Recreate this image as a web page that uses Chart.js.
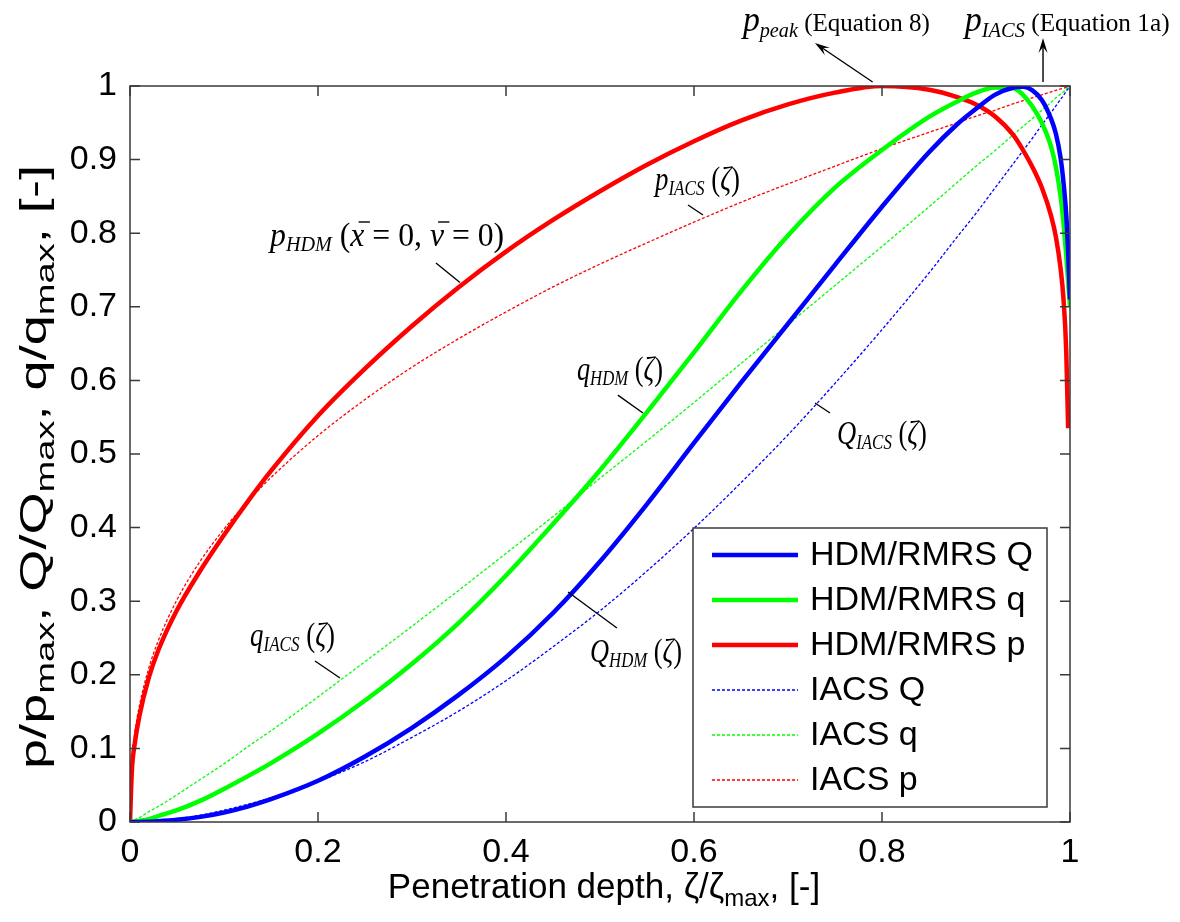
<!DOCTYPE html>
<html>
<head>
<meta charset="utf-8">
<script src="https://cdn.jsdelivr.net/npm/chart.js@4.4.1/dist/chart.umd.min.js"></script>
<style>
  html, body { margin: 0; padding: 0; background: #fff; }
  canvas { display: block; }
</style>
</head>
<body>
<canvas id="c" width="1180" height="922"></canvas>
<script>
// Normalised penetration depth zeta/zeta_max
const zeta = [0, 0.002, 0.005, 0.01, 0.02, 0.03, 0.05, 0.075, 0.1, 0.125, 0.15, 0.2, 0.25, 0.3, 0.35, 0.4, 0.45, 0.5, 0.55, 0.6, 0.65, 0.7, 0.75, 0.8, 0.85, 0.88, 0.9, 0.92, 0.94, 0.95, 0.96, 0.97, 0.98, 0.985, 0.99, 0.993, 0.996, 0.998, 1];

// HDM/RMRS model: normalised force Q, line load q and pressure p
const hdmQ = [0, 0, 0.00002, 0.0001, 0.0004, 0.001, 0.003, 0.007, 0.013, 0.021, 0.031, 0.056, 0.089, 0.128, 0.173, 0.224, 0.284, 0.354, 0.432, 0.515, 0.597, 0.677, 0.757, 0.836, 0.910, 0.948, 0.969, 0.988, 0.998, 0.999, 0.994, 0.981, 0.955, 0.935, 0.902, 0.870, 0.825, 0.775, 0.71];
const hdmq = [0, 0.0002, 0.0006, 0.0015, 0.004, 0.008, 0.016, 0.029, 0.045, 0.062, 0.080, 0.120, 0.165, 0.215, 0.271, 0.335, 0.405, 0.478, 0.557, 0.638, 0.721, 0.797, 0.862, 0.913, 0.958, 0.979, 0.991, 0.998, 0.997, 0.988, 0.972, 0.950, 0.917, 0.890, 0.850, 0.815, 0.770, 0.735, 0.70];
const hdmp = [0, 0.07, 0.106, 0.144, 0.196, 0.233, 0.288, 0.342, 0.390, 0.435, 0.477, 0.552, 0.616, 0.674, 0.727, 0.775, 0.818, 0.857, 0.893, 0.925, 0.953, 0.975, 0.991, 1.0, 0.995, 0.985, 0.975, 0.959, 0.933, 0.913, 0.890, 0.862, 0.823, 0.795, 0.752, 0.712, 0.64, 0.535, null];

// IACS design curves
const iacsQ = [0, 0.00001, 0.00007, 0.0003, 0.0009, 0.0018, 0.0046, 0.0094, 0.016, 0.024, 0.033, 0.055, 0.082, 0.115, 0.151, 0.192, 0.238, 0.287, 0.341, 0.399, 0.461, 0.526, 0.596, 0.669, 0.746, 0.795, 0.827, 0.861, 0.895, 0.912, 0.929, 0.947, 0.964, 0.973, 0.982, 0.987, 0.993, 0.996, 1];
const iacsq = [0, 0.001, 0.003, 0.006, 0.014, 0.021, 0.037, 0.058, 0.079, 0.102, 0.124, 0.170, 0.218, 0.266, 0.315, 0.365, 0.415, 0.467, 0.518, 0.570, 0.623, 0.676, 0.729, 0.782, 0.836, 0.869, 0.891, 0.912, 0.934, 0.945, 0.956, 0.967, 0.978, 0.984, 0.989, 0.992, 0.996, 0.998, 1];
const iacsp = [0, 0.083, 0.120, 0.158, 0.209, 0.246, 0.302, 0.355, 0.398, 0.435, 0.468, 0.525, 0.574, 0.618, 0.657, 0.693, 0.727, 0.758, 0.787, 0.815, 0.842, 0.867, 0.891, 0.915, 0.937, 0.950, 0.959, 0.967, 0.976, 0.980, 0.984, 0.988, 0.992, 0.994, 0.996, 0.997, 0.998, 0.999, 1];

const seriesLabels = ['HDM/RMRS Q', 'HDM/RMRS q', 'HDM/RMRS p', 'IACS Q', 'IACS q', 'IACS p'];
const xTicks = [0, 0.2, 0.4, 0.6, 0.8, 1];
const yTicks = [0, 0.1, 0.2, 0.3, 0.4, 0.5, 0.6, 0.7, 0.8, 0.9, 1];

const SANS = '"Liberation Sans", Arial, Helvetica, sans-serif';
const SERIF = '"Liberation Serif", "Times New Roman", serif';
const it = s => `italic ${s}px ${SERIF}`;
const rm = s => `${s}px ${SERIF}`;
const sans = s => `${s}px ${SANS}`;

const toPoints = arr => zeta.map((z, i) => ({ x: z, y: arr[i] })).filter(p => p.y !== null);

function solid(label, color, arr) {
  return { label, data: toPoints(arr), borderColor: color, backgroundColor: color,
    borderWidth: 4.5, pointRadius: 0, cubicInterpolationMode: 'monotone', fill: false };
}
function dotted(label, color, arr) {
  return { label, data: toPoints(arr), borderColor: color, backgroundColor: color,
    borderWidth: 1.3, borderDash: [3, 2], pointRadius: 0, cubicInterpolationMode: 'monotone', fill: false };
}

// ---------- rich text helpers (italic symbols with subscripts) ----------
function segWidth(ctx, segs) {
  let w = 0;
  segs.forEach(s => { ctx.font = s.f; w += ctx.measureText(s.t).width + (s.gap || 0); });
  return w;
}
function drawRich(ctx, segs, x, y, target) {
  const w = segWidth(ctx, segs);
  const sx = target ? target / w : 1;
  ctx.save();
  ctx.translate(x, y);
  ctx.scale(sx, 1);
  ctx.fillStyle = '#000';
  ctx.textBaseline = 'alphabetic';
  ctx.textAlign = 'left';
  let cx = 0;
  segs.forEach(s => {
    ctx.font = s.f;
    ctx.fillText(s.t, cx, s.dy || 0);
    const sw = ctx.measureText(s.t).width;
    if (s.bar) {
      const fs = parseFloat(s.f.match(/([\d.]+)px/)[1]);
      ctx.fillRect(cx + 0.26 * fs, -0.74 * fs, sw * 0.8, 1.4);
    }
    cx += sw + (s.gap || 0);
  });
  ctx.restore();
  return w * sx;
}

// ---------- annotations, placed in data units ----------
const M = 33, S = 21;
const curveNotes = [
  { at: [0.149, 0.783], w: 0.249, segs: [
      { t: 'p', f: it(M) }, { t: 'HDM', f: it(S), dy: 5 }, { t: ' (', f: rm(M) },
      { t: 'x', f: it(M), bar: true }, { t: ' = 0, ', f: rm(M) },
      { t: 'v', f: it(M), bar: true }, { t: ' = 0)', f: rm(M) }],
    lead: [[0.3255, 0.7595], [0.351, 0.733]] },
  { at: [0.5585, 0.8587], w: 0.0904, segs: [
      { t: 'p', f: it(M) }, { t: 'IACS', f: it(S), dy: 5 }, { t: ' (', f: rm(M) }, { t: 'ζ', f: it(M) }, { t: ')', f: rm(M) }],
    lead: [[0.5936, 0.8383], [0.6096, 0.8247]] },
  { at: [0.4755, 0.6005], w: 0.0915, segs: [
      { t: 'q', f: it(M) }, { t: 'HDM', f: it(S), dy: 5 }, { t: ' (', f: rm(M) }, { t: 'ζ', f: it(M) }, { t: ')', f: rm(M) }],
    lead: [[0.519, 0.580], [0.5457, 0.5557]] },
  { at: [0.7521, 0.5136], w: 0.0957, segs: [
      { t: 'Q', f: it(M) }, { t: 'IACS', f: it(S), dy: 5 }, { t: ' (', f: rm(M) }, { t: 'ζ', f: it(M) }, { t: ')', f: rm(M) }],
    lead: [[0.7287, 0.5693], [0.7447, 0.5557]] },
  { at: [0.4894, 0.2174], w: 0.0979, segs: [
      { t: 'Q', f: it(M) }, { t: 'HDM', f: it(S), dy: 5 }, { t: ' (', f: rm(M) }, { t: 'ζ', f: it(M) }, { t: ')', f: rm(M) }],
    lead: [[0.466, 0.3125], [0.518, 0.2636]] },
  { at: [0.1277, 0.2391], w: 0.0904, segs: [
      { t: 'q', f: it(M) }, { t: 'IACS', f: it(S), dy: 5 }, { t: ' (', f: rm(M) }, { t: 'ζ', f: it(M) }, { t: ')', f: rm(M) }],
    lead: [[0.1968, 0.2188], [0.2234, 0.1957]] }
];
const topNotes = [
  { at: [0.652, 1.0747], w: 0.199, segs: [
      { t: 'p', f: it(35) }, { t: 'peak', f: it(21), dy: 6 }, { t: ' (Equation 8)', f: rm(26) }],
    arrow: [[0.790, 1.0054], [0.7287, 1.0584]] },
  { at: [0.888, 1.0747], w: 0.218, segs: [
      { t: 'p', f: it(35) }, { t: 'IACS', f: it(21), dy: 6 }, { t: ' (Equation 1a)', f: rm(26) }],
    arrow: [[0.9713, 1.0054], [0.9713, 1.0652]] }
];

function drawArrow(ctx, x1, y1, x2, y2) {
  const ang = Math.atan2(y2 - y1, x2 - x1);
  const L = 15, H = 4.5;
  ctx.beginPath();
  ctx.moveTo(x1, y1);
  ctx.lineTo(x2 - Math.cos(ang) * 8, y2 - Math.sin(ang) * 8);
  ctx.stroke();
  ctx.beginPath();
  ctx.moveTo(x2, y2);
  ctx.lineTo(x2 - L * Math.cos(ang) + H * Math.sin(ang), y2 - L * Math.sin(ang) - H * Math.cos(ang));
  ctx.lineTo(x2 - 0.6 * L * Math.cos(ang), y2 - 0.6 * L * Math.sin(ang));
  ctx.lineTo(x2 - L * Math.cos(ang) - H * Math.sin(ang), y2 - L * Math.sin(ang) + H * Math.cos(ang));
  ctx.closePath();
  ctx.fill();
}

// ---------- axes box with inward tick marks ----------
const framePlugin = {
  id: 'frame',
  afterDatasetsDraw(chart) {
    const { ctx, chartArea: a, scales: { x, y } } = chart;
    const L = 10;
    ctx.save();
    ctx.strokeStyle = '#3a3a3a';
    ctx.lineWidth = 1.5;
    ctx.beginPath();
    x.ticks.forEach(t => {
      const px = x.getPixelForValue(t.value);
      ctx.moveTo(px, a.bottom); ctx.lineTo(px, a.bottom - L);
      ctx.moveTo(px, a.top); ctx.lineTo(px, a.top + L);
    });
    y.ticks.forEach(t => {
      const py = y.getPixelForValue(t.value);
      ctx.moveTo(a.left, py); ctx.lineTo(a.left + L, py);
      ctx.moveTo(a.right, py); ctx.lineTo(a.right - L, py);
    });
    ctx.stroke();
    ctx.strokeRect(a.left, a.top, a.right - a.left, a.bottom - a.top);
    ctx.restore();
  }
};

// ---------- legend box inside the lower right corner ----------
const legendBox = { right: 23, bottom: 15, width: 354, rowH: 45, pad: 27, sampleX: 19, sampleLen: 86, textX: 117, font: 34 };
const boxLegendPlugin = {
  id: 'boxLegend',
  afterDraw(chart) {
    const { ctx, chartArea: a } = chart;
    const ds = chart.data.datasets;
    const h = legendBox.pad * 2 + legendBox.rowH * (ds.length - 1);
    const x0 = a.right - legendBox.right - legendBox.width;
    const y0 = a.bottom - legendBox.bottom - h;
    ctx.save();
    ctx.fillStyle = '#fff';
    ctx.fillRect(x0, y0, legendBox.width, h);
    ctx.strokeStyle = '#3a3a3a';
    ctx.lineWidth = 1.5;
    ctx.strokeRect(x0, y0, legendBox.width, h);
    ds.forEach((d, i) => {
      const cy = y0 + legendBox.pad + i * legendBox.rowH;
      ctx.save();
      ctx.strokeStyle = d.borderColor;
      ctx.lineWidth = d.borderWidth;
      ctx.setLineDash(d.borderDash || []);
      ctx.beginPath();
      ctx.moveTo(x0 + legendBox.sampleX, cy);
      ctx.lineTo(x0 + legendBox.sampleX + legendBox.sampleLen, cy);
      ctx.stroke();
      ctx.restore();
      ctx.fillStyle = '#000';
      ctx.font = sans(legendBox.font);
      ctx.textBaseline = 'middle';
      ctx.textAlign = 'left';
      ctx.fillText(d.label, x0 + legendBox.textX, cy + 1);
    });
    ctx.restore();
  }
};

// ---------- curve labels, leaders, arrows and axis titles ----------
const notesPlugin = {
  id: 'notes',
  afterDraw(chart) {
    const { ctx, scales: { x, y } } = chart;
    const px = v => x.getPixelForValue(v), py = v => y.getPixelForValue(v);
    ctx.save();
    ctx.strokeStyle = '#000';
    ctx.fillStyle = '#000';
    ctx.lineWidth = 1.4;
    curveNotes.forEach(n => {
      const [a, b] = n.lead;
      ctx.beginPath();
      ctx.moveTo(px(a[0]), py(a[1]));
      ctx.lineTo(px(b[0]), py(b[1]));
      ctx.stroke();
      drawRich(ctx, n.segs, px(n.at[0]), py(n.at[1]), px(n.at[0] + n.w) - px(n.at[0]));
    });
    topNotes.forEach(n => {
      const [a, b] = n.arrow;
      drawArrow(ctx, px(a[0]), py(a[1]), px(b[0]), py(b[1]));
      drawRich(ctx, n.segs, px(n.at[0]), py(n.at[1]), px(n.at[0] + n.w) - px(n.at[0]));
    });

    // x axis title
    const xs = [
      { t: 'Penetration depth, ζ/ζ', f: sans(35) },
      { t: 'max', f: sans(24), dy: 8 },
      { t: ', [-]', f: sans(35) }
    ];
    const xw = segWidth(ctx, xs);
    drawRich(ctx, xs, 604 - xw / 2, 898);

    // y axis title (rotated)
    const ys = [
      { t: 'p/p', f: sans(37) }, { t: 'max', f: sans(26), dy: 8 },
      { t: ', Q/Q', f: sans(37) }, { t: 'max', f: sans(26), dy: 8 },
      { t: ', q/q', f: sans(37) }, { t: 'max', f: sans(26), dy: 8 },
      { t: ', [-]', f: sans(37) }
    ];
    ctx.save();
    ctx.translate(46, 467);
    ctx.rotate(-Math.PI / 2);
    drawRich(ctx, ys, -302, 0, 604);
    ctx.restore();
    ctx.restore();
  }
};

Chart.defaults.font.family = SANS;
Chart.defaults.color = '#000';

new Chart(document.getElementById('c'), {
  type: 'line',
  data: {
    datasets: [
      solid(seriesLabels[0], '#0000ff', hdmQ),
      solid(seriesLabels[1], '#00ff00', hdmq),
      solid(seriesLabels[2], '#ff0000', hdmp),
      dotted(seriesLabels[3], '#0000ff', iacsQ),
      dotted(seriesLabels[4], '#00ff00', iacsq),
      dotted(seriesLabels[5], '#ff0000', iacsp)
    ]
  },
  options: {
    responsive: false,
    devicePixelRatio: 1,
    animation: false,
    layout: { padding: { left: 0, right: 110, top: 86, bottom: 0 } },
    plugins: { legend: { display: false }, tooltip: { enabled: false } },
    scales: {
      x: {
        type: 'linear', min: 0, max: 1,
        afterBuildTicks: s => { s.ticks = xTicks.map(v => ({ value: v })); },
        afterFit: s => { s.height = 100; },
        grid: { display: false, drawTicks: false },
        border: { display: false },
        ticks: { font: { size: 34 }, padding: 10, maxRotation: 0, autoSkip: false, callback: v => String(v) }
      },
      y: {
        type: 'linear', min: 0, max: 1,
        afterBuildTicks: s => { s.ticks = yTicks.map(v => ({ value: v })); },
        afterFit: s => { s.width = 130; },
        grid: { display: false, drawTicks: false },
        border: { display: false },
        ticks: { font: { size: 34 }, padding: 13, autoSkip: false, callback: v => String(v) }
      }
    }
  },
  plugins: [framePlugin, boxLegendPlugin, notesPlugin]
});
</script>
</body>
</html>
